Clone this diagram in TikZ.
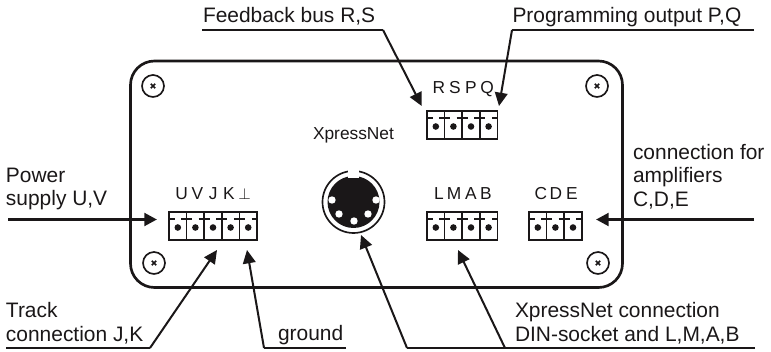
\documentclass[tikz,border=0pt]{standalone}
\usepackage{fontspec}
\setmainfont{Liberation Sans}
\usetikzlibrary{arrows.meta}
\definecolor{ink}{HTML}{1A1718}
\newcommand{\termblock}[4]{% name, left x, top y, cells
  \node[blockbox, minimum width=#4*17.6*0.75pt, minimum height=28*0.75pt, anchor=north west] (#1) at (#2,#3) {};
  \foreach \i in {1,...,#4}{
    \fill[ink] ({#2+(\i-0.5)*17.6},#3+15.5) circle[radius=3.3];
    \draw[bar] ({#2+(\i-1)*17.6+(\i>1?-5.5:0)},#3+7) -- ++({(\i>1?11:6)},0);
  }
  \foreach \i in {2,...,#4}{ \draw[cell] ({#2+(\i-1)*17.6},#3) -- ++(0,28); }
  \draw[bar] ({#2+#4*17.6-5.5},#3+7) -- ++(5.5,0);
}
\newcommand{\screw}[3]{% name, x, y
  \node[screwbox] (#1) at (#2,#3) {};
  \draw[cross] (#2-2.2,#3-2.2) -- (#2+2.2,#3+2.2) (#2-2.2,#3+2.2) -- (#2+2.2,#3-2.2);
}
\tikzset{
  x=0.75pt, y=-0.75pt,
  every node/.style={text=ink, inner sep=0pt, outer sep=0pt},
  lbl/.style={anchor=base west, font=\fontsize{15.7}{17.6}\selectfont, align=left},
  pinlbl/.style={anchor=base, font=\fontsize{13}{15}\selectfont},
  blockbox/.style={draw=ink, line width=1.25pt, rectangle},
  cell/.style={draw=ink, line width=1.25pt},
  bar/.style={draw=ink, line width=1.8pt},
  screwbox/.style={draw=ink, line width=1.25pt, circle, minimum size=16.5pt},
  cross/.style={draw=ink, line width=1.25pt},
  housing/.style={draw=ink, line width=2pt, rounded corners=18pt},
  flat/.style={draw=ink, line width=2.2pt},
  slant/.style={draw=ink, line width=1.5pt, -{Triangle[length=10pt,width=9.5pt]}},
  flatarrow/.style={draw=ink, line width=2.2pt, -{Triangle[length=9.5pt,width=9.5pt]}},
}
\begin{document}
\begin{tikzpicture}
\useasboundingbox (0,0) rectangle (771,352);
% housing
\draw[housing] (130.5,61) rectangle (622.5,287.5);
% screws
\screw{s1}{153}{86}
\screw{s2}{597}{86}
\screw{s3}{154}{263}
\screw{s4}{598}{263}
% terminal blocks
\termblock{rspq}{427}{111}{4}
\termblock{uvjkg}{169}{212}{5}
\termblock{lmab}{427}{212}{4}
\termblock{cde}{529}{212}{3}
% DIN socket
\node[circle, draw=ink, line width=1.25pt, minimum size=46.5pt] (din) at (353.5,202) {};
\fill[ink] (353.5,202) circle[radius=26];
\fill[white] (348,170) rectangle (359,178);
\foreach \hx/\hy in {332/200,376/200,339/214,368/214,354/221}
  \fill[white] (\hx,\hy) circle[radius=3.7];
% pin labels
\foreach \t/\px in {R/439,S/455,P/471,Q/487} \node[pinlbl] (p\t) at (\px,94) {\t};
\foreach \t/\px in {U/181.7,V/197.3,J/213.3,K/229} \node[pinlbl] (p\t) at (\px,200) {\t};
\node[pinlbl, font=\fontsize{12}{14}\selectfont] (pG) at (244.7,200) {$\perp$};
\foreach \t/\px in {L/439,M/454,A/471,B/486} \node[pinlbl] (p\t) at (\px,200) {\t};
\foreach \t/\px in {C/541,D/556,E/572} \node[pinlbl] (p\t) at (\px,200) {\t};
\node[anchor=base, font=\fontsize{13}{15}\selectfont] (xn) at (353.5,140) {XpressNet};
% texts
\node[lbl] (t1) at (203,23) {Feedback bus R,S};
\node[lbl] (t2) at (512.5,23) {Programming output P,Q};
\node[lbl] (t3) at (6,183) {Power};
\node[lbl] (t3b) at (6,206) {supply U,V};
\node[lbl] (t4) at (6,318) {Track};
\node[lbl] (t4b) at (6,342) {connection J,K};
\node[lbl] (t5) at (278,341) {ground};
\node[lbl] (t6) at (515,318) {XpressNet connection};
\node[lbl] (t6b) at (515,342) {DIN-socket and L,M,A,B};
\node[lbl] (t7) at (633,160) {connection for};
\node[lbl] (t7b) at (633,183) {amplifiers};
\node[lbl] (t7c) at (633,207) {C,D,E};
% connector points
\coordinate (fbA) at (202,30); \coordinate (fbB) at (383,30); \coordinate (fbT) at (421.7,106);
\coordinate (prB) at (754,30); \coordinate (prA) at (512,30); \coordinate (prT) at (499,106);
\coordinate (pwA) at (8,219.5); \coordinate (pwT) at (157,219.5);
\coordinate (amA) at (754,219.5); \coordinate (amT) at (596,219.5);
\coordinate (trA) at (6,348); \coordinate (trB) at (150,348); \coordinate (trT) at (217,250);
\coordinate (grB) at (346,348); \coordinate (grA) at (264,348); \coordinate (grT) at (247,250);
\coordinate (dnB) at (755,348); \coordinate (dnA) at (407,348); \coordinate (dnT) at (361,235);
\coordinate (lmA) at (505,348); \coordinate (lmT) at (458,250);
% connectors
\draw[flat] (fbA) -- (fbB);  \draw[slant] (fbB) -- (fbT);
\draw[flat] (prB) -- (prA);  \draw[slant] (prA) -- (prT);
\draw[flatarrow] (pwA) -- (pwT);
\draw[flatarrow] (amA) -- (amT);
\draw[flat] (trA) -- (trB);  \draw[slant] (trB) -- (trT);
\draw[flat] (grB) -- (grA);  \draw[slant] (grA) -- (grT);
\draw[flat] (dnB) -- (dnA);  \draw[slant] (dnA) -- (dnT);
\draw[slant] (lmA) -- (lmT);
\end{tikzpicture}
\end{document}
